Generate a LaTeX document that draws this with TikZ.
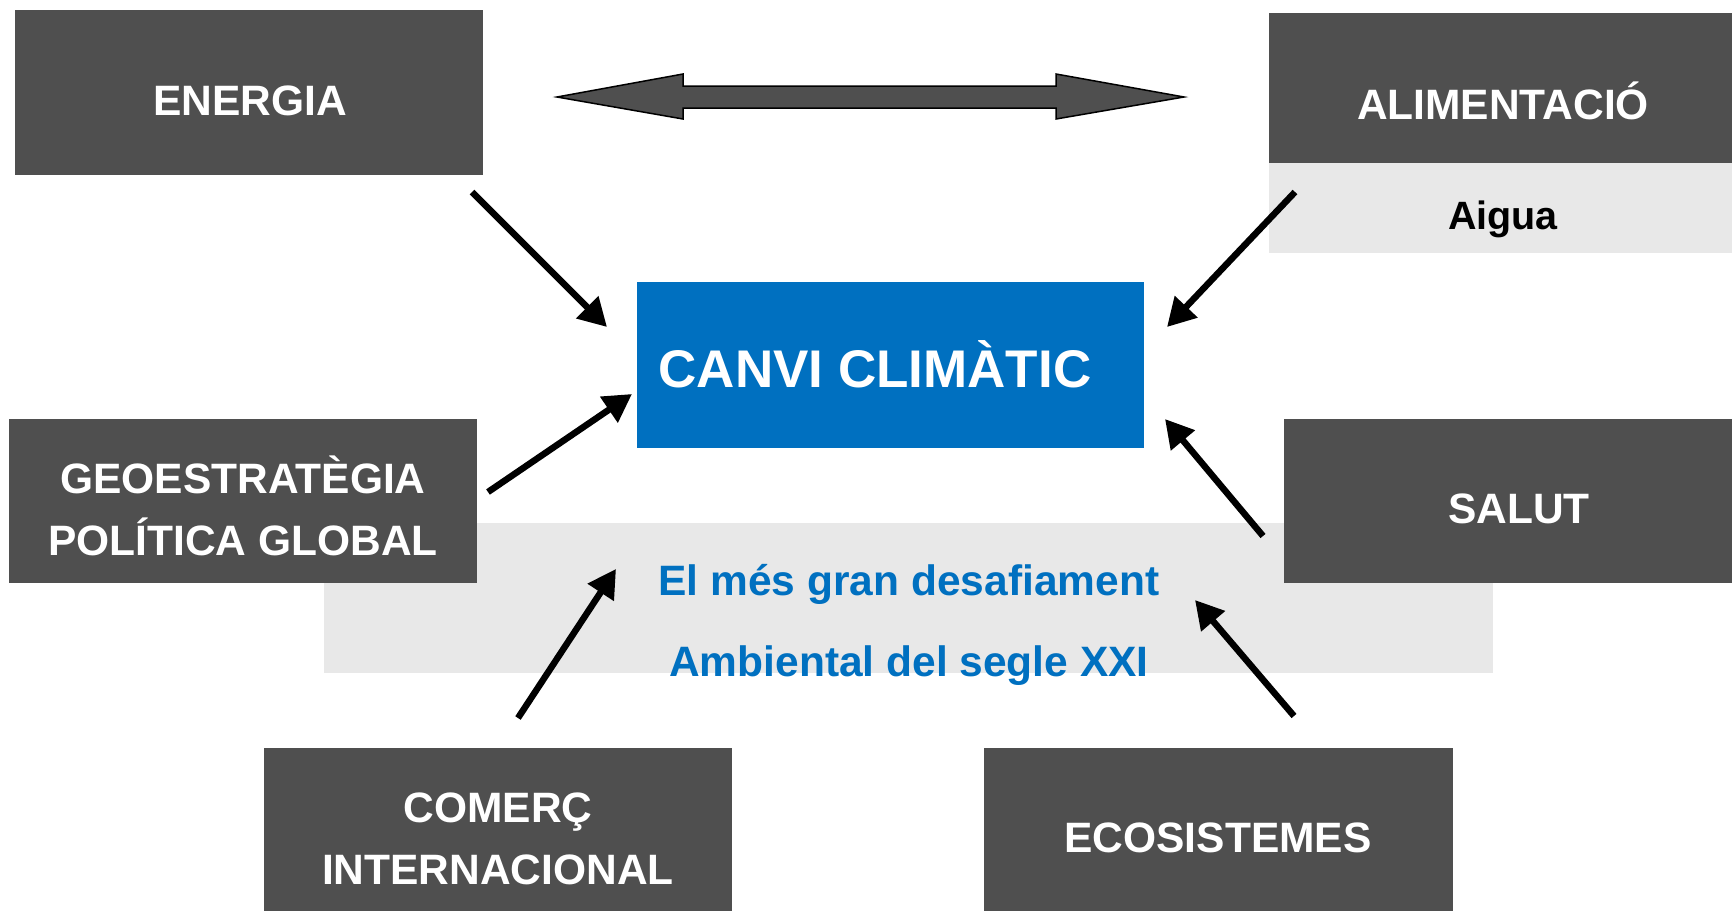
\documentclass[tikz,border=0pt]{standalone}
\usepackage{fontspec}
\setmainfont{Liberation Sans}
\usetikzlibrary{arrows.meta}
\definecolor{boxgray}{HTML}{4F4F4F}
\definecolor{lightband}{HTML}{E8E8E8}
\definecolor{cblue}{HTML}{0070C0}
\tikzset{
  darkbox/.style={fill=boxgray, draw=none},
  lightbox/.style={fill=lightband, draw=none},
  boxtext/.style={text=white, font=\bfseries\fontsize{42.5}{62}\selectfont, align=center, inner sep=0pt},
  bluetext/.style={text=cblue, font=\bfseries\fontsize{42.5}{62}\selectfont, inner sep=0pt},
  bigarrow/.style={line width=6.5pt, -{Triangle[length=28pt,width=30pt]}, black},
}
\begin{document}
\begin{tikzpicture}[x=1pt,y=-1pt]
\useasboundingbox (0,0) rectangle (1732,911);
% light band
\fill[lightband] (324,523) rectangle (1493,673);
\fill[lightband] (1269,163) rectangle (1732,253);
% dark boxes
\fill[darkbox] (15,10) rectangle (483,175);
\fill[darkbox] (1269,13) rectangle (1732,163);
\fill[darkbox] (9,419) rectangle (477,583);
\fill[darkbox] (1284,419) rectangle (1732,583);
\fill[darkbox] (264,748) rectangle (732,911);
\fill[darkbox] (984,748) rectangle (1453,911);
\fill[cblue] (637,282) rectangle (1144,448);
% texts
\node[boxtext] (energia) at (250,101) {ENERGIA};
\node[boxtext] (alim) at (1503,101) {ALIMENTACIÓ};
\node[inner sep=0pt, font=\bfseries\fontsize{39.5}{44}\selectfont] (aigua) at (1503,219) {Aigua};
\node[boxtext] (geo) at (243,506) {GEOESTRATÈGIA\\POLÍTICA GLOBAL};
\node[boxtext] (salut) at (1519,509) {SALUT};
\node[boxtext] (comerc) at (498,839) {COMERÇ\\INTERNACIONAL};
\node[boxtext] (ecos) at (1218,838) {ECOSISTEMES};
\node[text=white, inner sep=0pt, font=\bfseries\fontsize{53}{60}\selectfont] (canvi) at (875,364) {CANVI CLIMÀTIC};
\node[bluetext] (des1) at (909,584) {El més gran desafiament};
\node[bluetext] (des2) at (909,666) {Ambiental del segle XXI};
% double arrow
\filldraw[fill=boxgray, draw=black, line width=1.5pt, line join=miter]
  (557,97) -- (683,74) -- (683,86) -- (1056,86) -- (1056,74) -- (1184,97)
  -- (1056,119) -- (1056,108) -- (683,108) -- (683,119) -- cycle;
% arrow end points
\coordinate (e1) at (472,192); \coordinate (e2) at (607,327);
\coordinate (a1) at (1295,192); \coordinate (a2) at (1167,327);
\coordinate (g1) at (488,492); \coordinate (g2) at (632,394);
\coordinate (s1) at (1263,536); \coordinate (s2) at (1165,419);
\coordinate (c1) at (518,718); \coordinate (c2) at (616,569);
\coordinate (o1) at (1294,716); \coordinate (o2) at (1195,600);
\draw[bigarrow] (e1) -- (e2);
\draw[bigarrow] (a1) -- (a2);
\draw[bigarrow] (g1) -- (g2);
\draw[bigarrow] (s1) -- (s2);
\draw[bigarrow] (c1) -- (c2);
\draw[bigarrow] (o1) -- (o2);
\end{tikzpicture}
\end{document}
